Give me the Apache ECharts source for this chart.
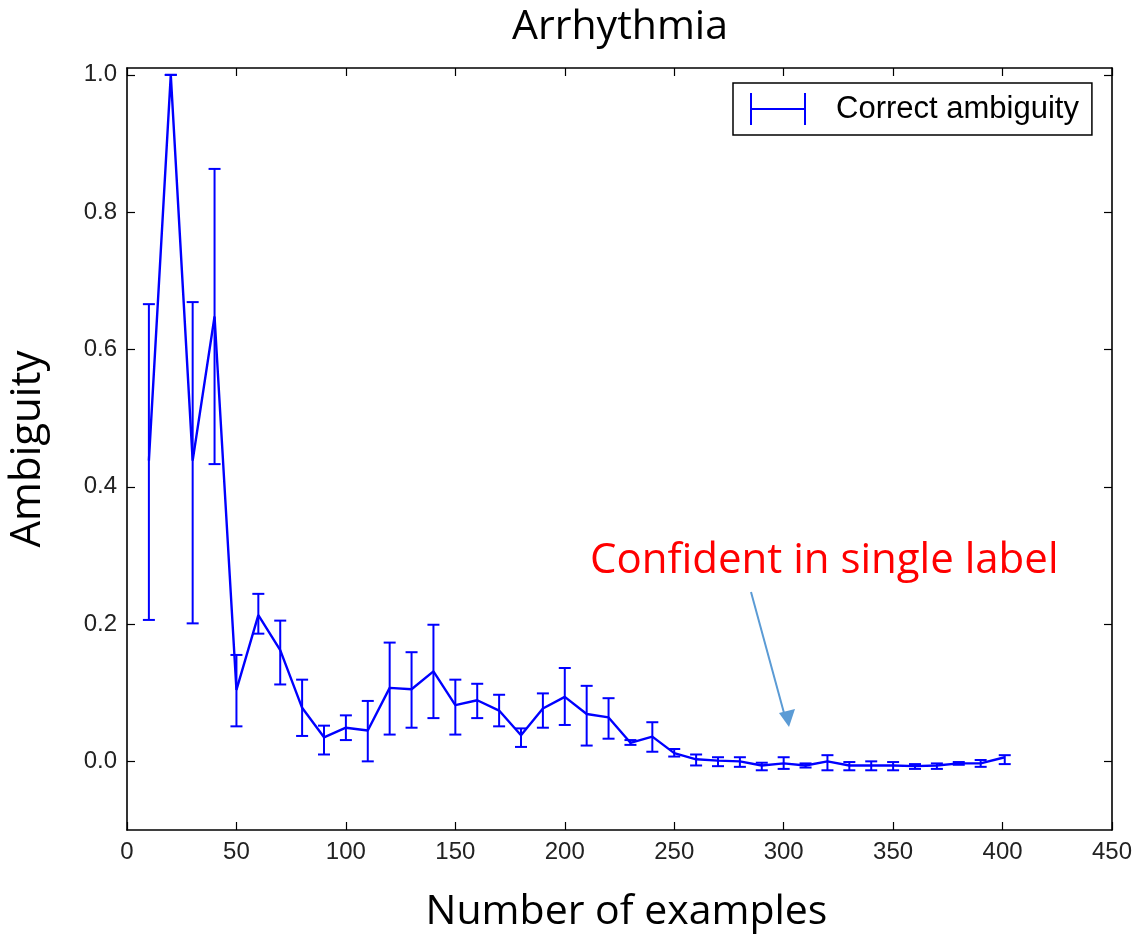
<!DOCTYPE html>
<html>
<head>
<meta charset="utf-8">
<script src="https://cdn.jsdelivr.net/npm/echarts@6/dist/echarts.min.js"></script>
<style>html,body{margin:0;padding:0;background:#fff}#chart{width:1134px;height:936px}</style>
</head>
<body>
<div id="chart"></div>
<script>
// Data
const examples = [10,20,30,40,50,60,70,80,90,100,110,120,130,140,150,160,170,180,190,200,210,220,230,240,250,260,270,280,290,300,310,320,330,340,350,360,370,380,390,401];
const ambiguity = [0.438,1.0,0.438,0.648,0.104,0.213,0.162,0.078,0.035,0.049,0.045,0.107,0.105,0.131,0.082,0.089,0.074,0.038,0.077,0.094,0.069,0.064,0.027,0.036,0.012,0.003,0.001,0.0,-0.006,-0.003,-0.006,0.0,-0.006,-0.006,-0.006,-0.007,-0.006,-0.003,-0.003,0.006];
const upperErr = [0.666,1.0,0.669,0.863,0.155,0.244,0.205,0.119,0.052,0.067,0.088,0.173,0.159,0.199,0.119,0.113,0.097,0.048,0.099,0.136,0.110,0.092,0.031,0.057,0.018,0.010,0.006,0.006,-0.002,0.006,-0.003,0.009,-0.001,0.0,-0.001,-0.004,-0.003,-0.001,0.002,0.009];
const lowerErr = [0.206,1.0,0.201,0.433,0.051,0.186,0.112,0.037,0.010,0.031,0.0,0.039,0.049,0.063,0.039,0.063,0.051,0.021,0.049,0.053,0.023,0.033,0.024,0.014,0.007,-0.006,-0.007,-0.008,-0.013,-0.011,-0.009,-0.013,-0.013,-0.013,-0.013,-0.011,-0.011,-0.005,-0.008,-0.004];
const yTicks = [0.0,0.2,0.4,0.6,0.8,1.0];
const titleText = 'Arrhythmia';
const xName = 'Number of examples';
const yName = 'Ambiguity';
const seriesName = 'Correct ambiguity';
const noteText = 'Confident in single label';

const lineData = examples.map((x,i)=>[x, ambiguity[i]]);
const errData = examples.map((x,i)=>[x, lowerErr[i], upperErr[i]]);

const chart = echarts.init(document.getElementById('chart'), null, {renderer:'canvas'});
const BLUE = '#0000ff';
const axisLineStyle = {color:'#000', width:1.6};
const tickFont = {fontFamily:'Liberation Sans, Arial, sans-serif', fontSize:24, color:'#222'};

const option = {
  backgroundColor:'#fff',
  animation:false,
  title:{text:titleText, left:615, top:2, textAlign:'center',
    textStyle:{fontFamily:'Open Sans', fontSize:41, fontWeight:'normal', color:'#000'}},
  legend:{
    left:733, top:83, orient:'horizontal',
    padding:[10,13,10,17],
    borderColor:'#000', borderWidth:1.5, backgroundColor:'#fff',
    itemWidth:56, itemHeight:33,
    data:[{name:seriesName, icon:'path://M0,0h2v32h-2z M0,15h56v2h-56z M54,0h2v32h-2z', itemStyle:{color:BLUE}}],
    textStyle:{fontFamily:'Liberation Sans, Arial, sans-serif', fontSize:31, color:'#000', padding:[0,0,0,25]}
  },
  grid:{left:127, right:22, top:68, bottom:106, containLabel:false, outerBoundsMode:'none'},
  xAxis:[{
    type:'value', min:0, max:450, interval:50, position:'bottom',
    name:xName, nameLocation:'middle', nameGap:62,
    nameTextStyle:{fontFamily:'Open Sans', fontSize:41, color:'#000', padding:[0,0,0,14]},
    axisLine:{show:true, lineStyle:axisLineStyle, onZero:false},
    axisTick:{show:true, inside:true, length:8, lineStyle:{color:'#000', width:1.2}},
    axisLabel:Object.assign({margin:10}, tickFont),
    splitLine:{show:false}
  },{
    type:'value', min:0, max:450, interval:50, position:'top',
    axisLine:{show:true, lineStyle:axisLineStyle, onZero:false},
    axisTick:{show:true, inside:true, length:8, lineStyle:{color:'#000', width:1.2}},
    axisLabel:{show:false}, splitLine:{show:false}
  }],
  yAxis:[{
    type:'value', min:-0.1, max:1.01, position:'left',
    name:yName, nameLocation:'middle', nameGap:78, nameRotate:90,
    nameTextStyle:{fontFamily:'Open Sans', fontSize:42, color:'#000'},
    axisLine:{show:true, lineStyle:axisLineStyle, onZero:false},
    axisTick:{show:true, inside:true, length:8, customValues:yTicks, lineStyle:{color:'#000', width:1.2}},
    axisLabel:Object.assign({margin:10, customValues:yTicks, formatter:v=>Number(v).toFixed(1)}, tickFont),
    splitLine:{show:false}
  },{
    type:'value', min:-0.1, max:1.01, position:'right',
    axisLine:{show:true, lineStyle:axisLineStyle, onZero:false},
    axisTick:{show:true, inside:true, length:8, customValues:yTicks, lineStyle:{color:'#000', width:1.2}},
    axisLabel:{show:false}, splitLine:{show:false}
  }],
  series:[{
    name:seriesName, type:'line', data:lineData, xAxisIndex:0, yAxisIndex:0,
    showSymbol:false, symbol:'none', lineStyle:{color:BLUE, width:2.4}, itemStyle:{color:BLUE}, z:3
  },{
    name:seriesName, type:'custom', data:errData, xAxisIndex:0, yAxisIndex:0,
    encode:{x:0, y:[1,2]},
    renderItem:function(params, api){
      const x = api.value(0);
      const lo = api.coord([x, api.value(1)]);
      const hi = api.coord([x, api.value(2)]);
      const hw = 6;
      const st = {stroke:BLUE, lineWidth:2};
      return {type:'group', children:[
        {type:'line', shape:{x1:lo[0], y1:lo[1], x2:hi[0], y2:hi[1]}, style:st},
        {type:'line', shape:{x1:lo[0]-hw, y1:lo[1], x2:lo[0]+hw, y2:lo[1]}, style:st},
        {type:'line', shape:{x1:hi[0]-hw, y1:hi[1], x2:hi[0]+hw, y2:hi[1]}, style:st}
      ]};
    }, z:4
  }],
  graphic:[
    {type:'text', left:590, top:540, z:10,
      style:{text:noteText, fill:'#ff0000', font:'42px "Open Sans"'}},
    {type:'line', z:10, shape:{x1:751, y1:592, x2:784, y2:713},
      style:{stroke:'#5b9bd5', lineWidth:2}},
    {type:'polygon', z:10, shape:{points:[[779,713],[795,709],[789,727]]},
      style:{fill:'#5b9bd5'}}
  ]
};
chart.setOption(option);
</script>
</body>
</html>
